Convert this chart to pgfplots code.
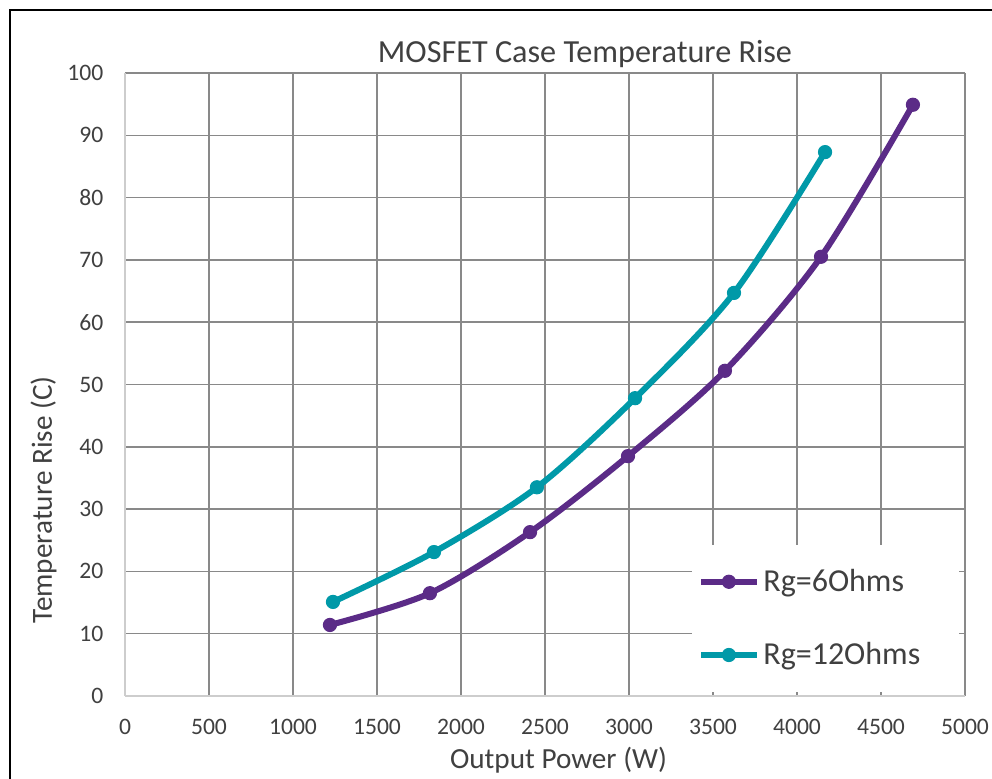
\documentclass[border=0pt]{standalone}
\usepackage{pgfplots}
\pgfplotsset{compat=1.18}
\usepackage{fontspec}
\setmainfont{Carlito}
\definecolor{purp}{RGB}{91,43,135}
\definecolor{tealc}{RGB}{0,153,168}
\definecolor{txt}{RGB}{64,64,64}
\definecolor{gridc}{RGB}{137,137,137}
\definecolor{axc}{RGB}{205,205,205}
\begin{document}
\begin{tikzpicture}
\useasboundingbox (-62.5pt,-41.5pt) rectangle (433.5pt,348pt);
\fill[white] (-62.5pt,-41.5pt) rectangle (433.5pt,348pt);
\begin{axis}[
  at={(0pt,0pt)}, anchor=south west,
  scale only axis, width=420pt, height=311.5pt,
  xmin=0, xmax=5000, ymin=0, ymax=100,
  xtick={0,500,...,5000}, ytick={0,10,...,100},
  axis x line*=bottom, axis y line*=left,
  axis line style={draw=axc, line width=0.75pt},
  grid=major, grid style={draw=gridc, line width=0.75pt},
  major tick length=0pt,
  /pgf/number format/assume math mode=true,
  /pgf/number format/1000 sep={},
  ticklabel style={font=\fontsize{11.8}{14}\selectfont, text=txt},
  xticklabel style={anchor=base, yshift=-19.5pt},
  yticklabel style={anchor=east, xshift=-7.3pt},
  legend style={at={(0.675,0.0064)}, anchor=south west, draw=none, fill=white,
    inner xsep=3pt, inner ysep=10pt, row sep=20pt,
    font=\fontsize{16}{19}\selectfont, text=txt},
  legend cell align=left,
  legend image code/.code={\draw[#1, mark repeat=2, mark phase=2] plot coordinates {(0pt,0pt) (13.75pt,0pt) (27.5pt,0pt)};},
]
\addplot[purp, line width=3pt, smooth, tension=0.5, mark=*, mark size=3.3pt, mark options={solid, fill=purp, line width=0.5pt}]
  coordinates {(1220,11.4) (1815,16.5) (2411,26.3) (2994,38.5) (3571,52.2) (4143,70.5) (4690,94.9)};
\addlegendentry{\makebox[93pt][l]{Rg=6Ohms}}
\addplot[tealc, line width=3pt, smooth, tension=0.5, mark=*, mark size=3.3pt, mark options={solid, fill=tealc, line width=0.5pt}]
  coordinates {(1238,15.1) (1839,23.1) (2452,33.5) (3036,47.8) (3625,64.7) (4167,87.3)};
\addlegendentry{\makebox[93pt][l]{Rg=12Ohms}}
\end{axis}
\node[anchor=base, font=\fontsize{16.1}{19}\selectfont, text=txt] at (230pt,316.5pt) {MOSFET Case Temperature Rise};
\node[anchor=base, font=\fontsize{14.6}{17}\selectfont, text=txt] at (216.75pt,-36.5pt) {Output Power (W)};
\node[anchor=base, rotate=90, font=\fontsize{14.6}{17}\selectfont, text=txt] at (-36.5pt,98pt) {Temperature Rise (C)};
\draw[black, line width=1.2pt] (-57.5pt,-41.5pt) -- (-57.5pt,343pt) -- (433.5pt,343pt);
\end{tikzpicture}
\end{document}
